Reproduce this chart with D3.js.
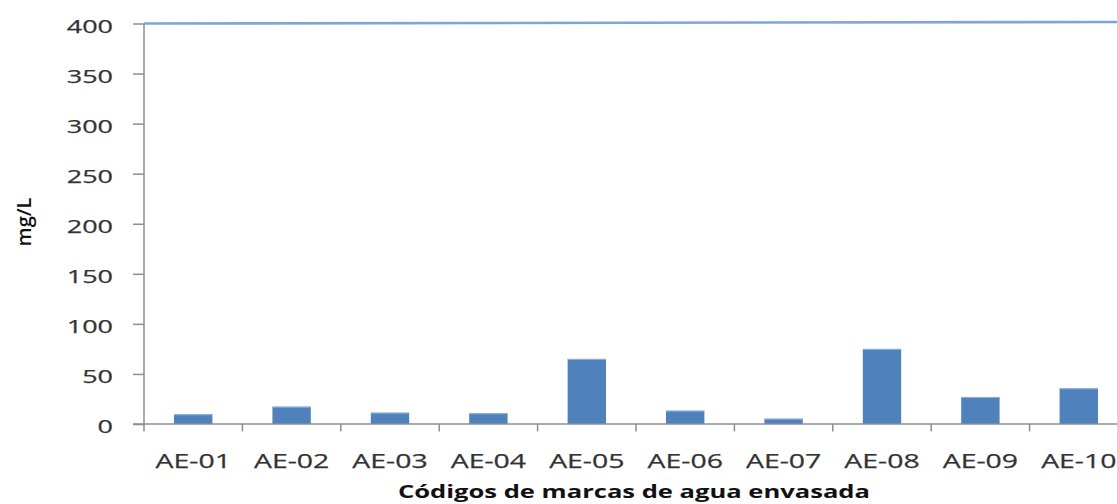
<!DOCTYPE html>
<html>
<head>
<meta charset="utf-8">
<script src="https://cdn.jsdelivr.net/npm/d3@7"></script>
<style>
  html, body { margin: 0; padding: 0; background: #fff; }
  svg { display: block; }
  text { font-family: "Open Sans", "DejaVu Sans", sans-serif; }
</style>
</head>
<body>
<svg id="chart" width="1117" height="504"></svg>
<script>
// Concentración por marca de agua envasada (mg/L)
const categories = ["AE-01", "AE-02", "AE-03", "AE-04", "AE-05", "AE-06", "AE-07", "AE-08", "AE-09", "AE-10"];
const values = [9.7, 17.3, 11.3, 10.7, 65, 13.3, 5.3, 75, 27, 35.6];
const limitValue = 400;
const yTicks = [0, 50, 100, 150, 200, 250, 300, 350, 400];
const yTitle = "mg/L";
const xTitle = "Códigos de marcas de agua envasada";

const svg = d3.select("#chart");
const plotLeft = 144, plotTop = 23.5, plotBottom = 424, plotRight = 1128;
const axisColor = "#8e8e8e";
const textColor = "#333";
const stretch = 1.42; // wide glyph proportions

const x = d3.scaleBand().domain(categories).range([plotLeft, plotRight])
  .paddingInner(0.61).paddingOuter(0.305);
const y = d3.scaleLinear().domain([0, 400]).range([plotBottom, plotTop]);

// widen every label horizontally around its anchor
function widen(sel) {
  sel.each(function () {
    const w = this.getComputedTextLength();
    d3.select(this).attr("textLength", w * stretch).attr("lengthAdjust", "spacingAndGlyphs");
  });
}

// limit line at 400
svg.append("line")
  .attr("x1", plotLeft).attr("x2", 1117)
  .attr("y1", y(limitValue)).attr("y2", y(limitValue) - 1.5)
  .attr("stroke", "#7fa5d6").attr("stroke-width", 2.6);

// bars
svg.append("g").selectAll("rect").data(values).join("rect")
  .attr("x", (d, i) => x(categories[i]))
  .attr("width", x.bandwidth())
  .attr("y", d => y(d))
  .attr("height", d => y(0) - y(d))
  .attr("fill", "#4f81bd");
svg.append("g").selectAll("line").data(values).join("line")
  .attr("x1", (d, i) => x(categories[i]))
  .attr("x2", (d, i) => x(categories[i]) + x.bandwidth())
  .attr("y1", d => y(d) + 0.5).attr("y2", d => y(d) + 0.5)
  .attr("stroke", "#8fb1dc").attr("stroke-width", 1);

// y axis
const yAxis = svg.append("g").attr("transform", `translate(${plotLeft},0)`)
  .call(d3.axisLeft(y).tickValues(yTicks).tickSize(11).tickPadding(20).tickFormat(d3.format("d")));
yAxis.select(".domain").attr("stroke", axisColor).attr("stroke-width", 1.5)
  .attr("d", `M0,${plotTop}V${plotBottom + 7.5}`);
yAxis.selectAll(".tick line").attr("stroke", axisColor).attr("stroke-width", 1.5);
yAxis.selectAll(".tick text")
  .attr("font-size", 19).attr("fill", textColor)
  .attr("stroke", textColor).attr("stroke-width", 0.25)
  .attr("dy", null).attr("y", 8.5)
  .attr("text-anchor", "end").attr("x", -31)
  .call(widen);

// x axis
const xAxis = svg.append("g").attr("transform", `translate(0,${plotBottom})`)
  .call(d3.axisBottom(x).tickSize(0).tickPadding(0));
xAxis.select(".domain").attr("stroke", axisColor).attr("stroke-width", 1.5)
  .attr("d", `M${plotLeft - 11},0H1117`);
xAxis.selectAll(".tick text")
  .attr("font-size", 20).attr("fill", textColor)
  .attr("stroke", textColor).attr("stroke-width", 0.25)
  .attr("dy", null).attr("y", 44)
  .call(widen);
// category separators
const bounds = categories.map(c => x(c) - x.step() * x.paddingOuter());
xAxis.append("g").selectAll("line").data(bounds.slice(1)).join("line")
  .attr("x1", d => d).attr("x2", d => d)
  .attr("y1", 0).attr("y2", 7.5)
  .attr("stroke", axisColor).attr("stroke-width", 1.5);

// axis titles
svg.append("text")
  .attr("x", 634).attr("y", 498)
  .attr("text-anchor", "middle")
  .attr("font-size", 18).attr("font-weight", "bold").attr("fill", "#111")
  .text(xTitle)
  .call(widen);

svg.append("text")
  .attr("transform", "translate(31,222) scale(1.35,1) rotate(-90)")
  .attr("text-anchor", "middle")
  .attr("font-size", 14).attr("font-weight", 600).attr("fill", "#111")
  .attr("textLength", 49).attr("lengthAdjust", "spacingAndGlyphs")
  .text(yTitle);
</script>
</body>
</html>
